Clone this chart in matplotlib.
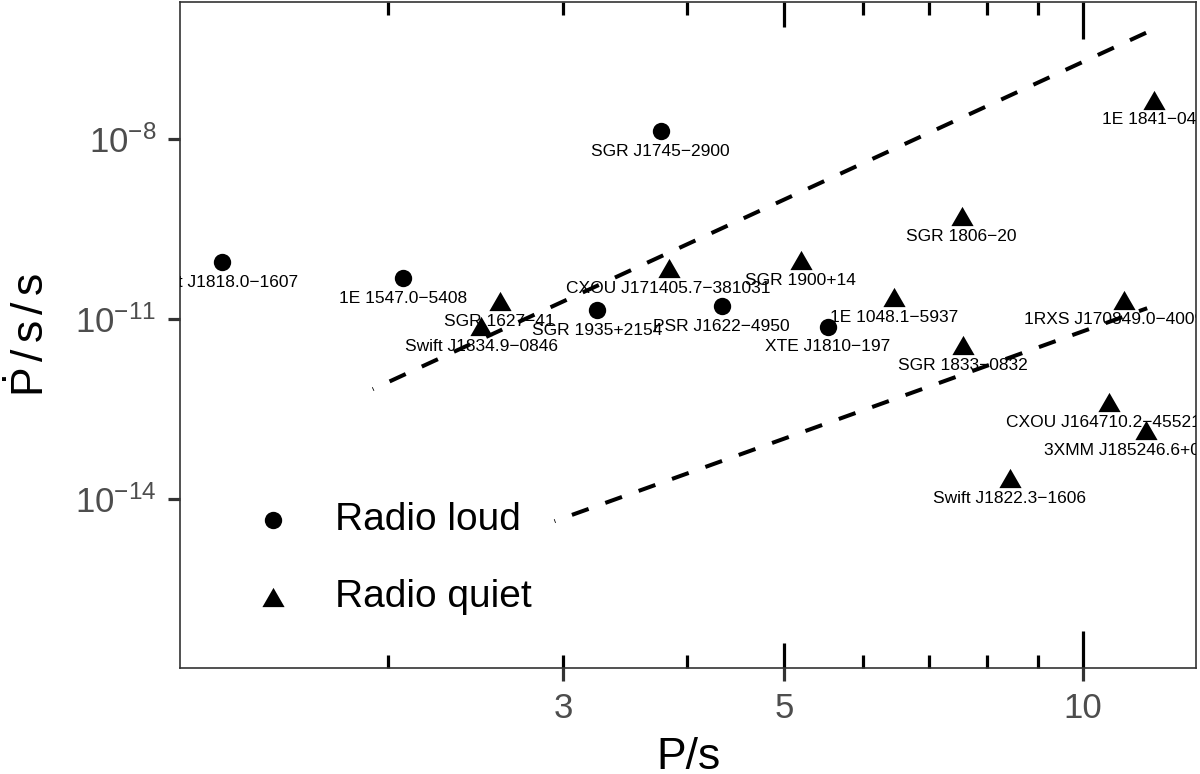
import numpy as np
import matplotlib
matplotlib.use('Agg')
import matplotlib.pyplot as plt
import matplotlib.transforms as mtransforms
from matplotlib.path import Path

plt.rcParams['font.family'] = ['Liberation Sans', 'DejaVu Sans']
plt.rcParams['mathtext.fontset'] = 'custom'
plt.rcParams['mathtext.rm'] = 'Liberation Sans'
plt.rcParams['mathtext.it'] = 'Liberation Sans:italic'

# radio loud magnetars
loud_names = ['Swift J1818.0\u22121607', '1E 1547.0\u22125408', 'SGR J1745\u22122900',
              'SGR 1935+2154', 'PSR J1622\u22124950', 'XTE J1810\u2212197']
loud_P = [1.36, 2.07, 3.76, 3.245, 4.33, 5.54]
loud_Pdot = [8.9e-11, 4.8e-11, 1.36e-8, 1.41e-11, 1.65e-11, 7.4e-12]

# radio quiet magnetars
quiet_names = ['SGR 1627\u221241', 'Swift J1834.9\u22120846', 'CXOU J171405.7\u2212381031',
               'SGR 1900+14', '1E 1048.1\u22125937', 'SGR 1806\u221220', 'SGR 1833\u22120832',
               '1E 1841\u2212045', '1RXS J170849.0\u2212400910', 'CXOU J164710.2\u2212455216',
               '3XMM J185246.6+003317', 'Swift J1822.3\u22121606']
quiet_P = [2.59, 2.48, 3.83, 5.2, 6.46, 7.55, 7.57, 11.79, 11.0, 10.61, 11.56, 8.44]
quiet_Pdot = [2.0e-11, 7.6e-12, 7.1e-11, 9.6e-11, 2.3e-11, 5.2e-10, 3.7e-12,
              4.5e-8, 2.1e-11, 4.1e-13, 1.4e-13, 2.2e-14]

# dashed reference lines
upper_P = [1.93, 11.6]
upper_Pdot = [10**-12.17, 10**-6.22]
lower_P = [2.94, 11.6]
lower_Pdot = [10**-14.37, 10**-10.82]

x_ticks = [3, 5, 10]
y_ticks = [1e-14, 1e-11, 1e-8]

fig = plt.figure(figsize=(12, 7.74), dpi=100)
ax = fig.add_axes([0.15, 0.137, 0.8467, 0.861])
ax.set_xscale('log')
ax.set_yscale('log')
ax.set_xlim(1.235, 12.99)
ax.set_ylim(10**-16.817, 10**-5.708)

dash = (4.2, (4.4, 4.4))
ax.plot(upper_P, upper_Pdot, color='black', lw=2.9, linestyle=dash)
ax.plot(lower_P, lower_Pdot, color='black', lw=2.9, linestyle=dash)

tri = Path([(0, 0.433), (-0.5, -0.433), (0.5, -0.433), (0, 0.433)],
           [Path.MOVETO, Path.LINETO, Path.LINETO, Path.CLOSEPOLY])

h1 = ax.scatter(loud_P, loud_Pdot, marker='o', s=12.5**2, color='black',
                linewidths=0, label='Radio loud', zorder=3)
h2 = ax.scatter(quiet_P, quiet_Pdot, marker=tri, s=16**2, color='black',
                linewidths=0, label='Radio quiet', zorder=3)

# names under the points
below = mtransforms.offset_copy(ax.transData, fig=fig, x=0, y=-14.5, units='points')
for name, p, pd in zip(loud_names + quiet_names, loud_P + quiet_P, loud_Pdot + quiet_Pdot):
    ax.text(p, pd, name, transform=below, ha='center', va='center',
            fontsize=12.5, color='black', clip_on=True)

# axis styling
for sp in ax.spines.values():
    sp.set_color('#333333')
    sp.set_linewidth(1.2)

ax.xaxis.set_minor_locator(matplotlib.ticker.NullLocator())
ax.yaxis.set_minor_locator(matplotlib.ticker.NullLocator())
ax.set_xticks(x_ticks)
ax.set_xticklabels([str(t) for t in x_ticks])
ax.set_yticks(y_ticks)
ax.set_yticklabels([r'$10^{-%d}$' % round(-np.log10(t)) for t in y_ticks])
ax.tick_params(axis='both', which='major', direction='out', length=9, width=2.3,
               color='#333333', labelsize=25, labelcolor='#4D4D4D', pad=8)

# log ticks inside the panel, top and bottom
xt = ax.get_xaxis_transform()
short_x = [2, 3, 4, 6, 7, 8, 9]
for xs, ln in [(short_x, 9.4), ([5], 18), ([10], 26.6)]:
    ax.plot(xs, [0] * len(xs), ls='', marker=2, ms=ln, mew=2.3, color='black',
            transform=xt, clip_on=False)
    ax.plot(xs, [1] * len(xs), ls='', marker=3, ms=ln, mew=2.3, color='black',
            transform=xt, clip_on=False)

ax.set_xlabel('P/s', fontsize=32, labelpad=9)
ax.set_ylabel(r'$\dot{\mathrm{P}}\,/\,\mathrm{s}\,/\,\mathrm{s}$', fontsize=32, labelpad=16)

ax.legend(handles=[h1, h2], loc='upper left', bbox_to_anchor=(0.057, 0.272),
          frameon=False, fontsize=28, handlelength=1.0, handletextpad=1.1,
          labelspacing=1.05, borderaxespad=0)

fig.savefig('out.png', dpi=100)
